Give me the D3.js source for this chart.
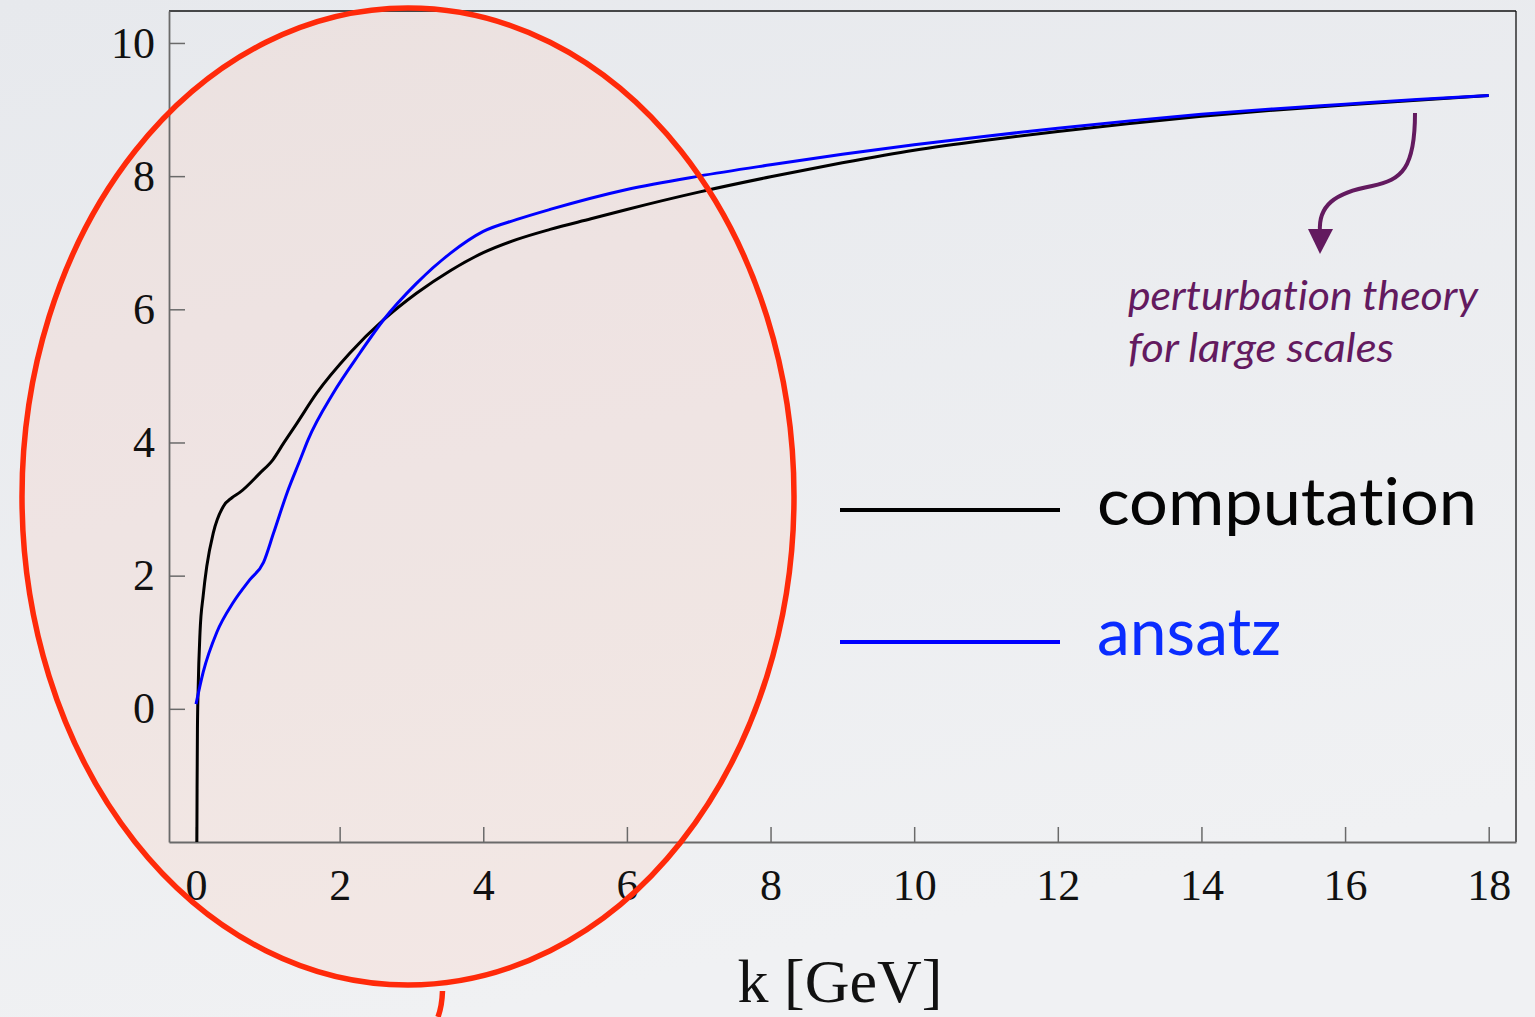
<!DOCTYPE html>
<html>
<head>
<meta charset="utf-8">
<script src="https://cdn.jsdelivr.net/npm/d3@7"></script>
<style>
  html, body { margin: 0; padding: 0; overflow: hidden; }
  svg { display: block; }
  text { font-variant-ligatures: none; font-feature-settings: "liga" 0; }
</style>
</head>
<body>
<svg id="chart" width="1535" height="1017"></svg>
<script>
// Computed running quantity vs. momentum scale k
const compK = [0.012, 0.015, 0.02, 0.03, 0.056, 0.1, 0.15, 0.24, 0.38, 0.5, 0.61, 0.89, 1.07, 1.22, 1.4, 1.68, 2.14, 2.61, 3.07, 3.54, 4.0, 4.47, 4.93, 5.5, 6.0, 7.0, 8.0, 9.0, 10.0, 11.0, 12.0, 13.0, 14.0, 15.0, 16.0, 17.0, 18.0];
const compY = [-2.0, -1.2, -0.3, 0.3, 1.15, 1.7, 2.14, 2.64, 3.04, 3.17, 3.25, 3.54, 3.74, 3.99, 4.28, 4.74, 5.34, 5.84, 6.24, 6.58, 6.85, 7.05, 7.2, 7.36, 7.5, 7.76, 7.99, 8.2, 8.39, 8.54, 8.67, 8.79, 8.9, 8.99, 9.07, 9.14, 9.21];

// Ansatz curve
const ansK = [0.0, 0.1, 0.29, 0.52, 0.75, 0.94, 1.08, 1.27, 1.45, 1.56, 1.91, 2.28, 2.61, 3.07, 3.54, 4.0, 4.47, 4.93, 6.0, 7.0, 8.0, 9.0, 10.0, 11.0, 12.0, 13.0, 14.0, 15.0, 16.0, 17.0, 18.0];
const ansY = [0.07, 0.55, 1.15, 1.6, 1.94, 2.2, 2.64, 3.25, 3.74, 4.04, 4.74, 5.34, 5.84, 6.39, 6.84, 7.17, 7.35, 7.5, 7.8, 8.0, 8.17, 8.33, 8.47, 8.6, 8.72, 8.83, 8.93, 9.01, 9.08, 9.15, 9.21];

const xTicks = [0, 2, 4, 6, 8, 10, 12, 14, 16, 18];
const yTicks = [0, 2, 4, 6, 8, 10];

const seriesNames = ["computation", "ansatz"];
const seriesColors = ["#000000", "#0000ff"];

const svg = d3.select("#chart");
const W = 1535, H = 1017;

// background
const defs = svg.append("defs");
const bg = defs.append("linearGradient").attr("id", "bg").attr("x1", 0).attr("y1", 0).attr("x2", 0.3).attr("y2", 1);
bg.append("stop").attr("offset", "0%").attr("stop-color", "#e7e9ed");
bg.append("stop").attr("offset", "100%").attr("stop-color", "#f0f1f3");
svg.append("rect").attr("width", W).attr("height", H).attr("fill", "url(#bg)");

const x = d3.scaleLinear().domain([-0.376, 18.38]).range([169, 1516]);
const y = d3.scaleLinear().domain([-2, 10.48]).range([842, 11]);

// highlighted low-k region (fill below everything)
const ell = { cx: 408, cy: 496.5, rx: 386, ry: 488.5 };
svg.append("ellipse")
  .attr("cx", ell.cx).attr("cy", ell.cy).attr("rx", ell.rx).attr("ry", ell.ry)
  .attr("fill", "rgb(255,194,174)").attr("fill-opacity", 0.2);

// frame: top and right edges
svg.append("line").attr("x1", x.range()[0]).attr("x2", x.range()[1]).attr("y1", y.range()[1]).attr("y2", y.range()[1])
  .attr("stroke", "#111").attr("stroke-width", 1.3);
svg.append("line").attr("x1", x.range()[1]).attr("x2", x.range()[1]).attr("y1", y.range()[0]).attr("y2", y.range()[1])
  .attr("stroke", "#111").attr("stroke-width", 1.3);

// axes
const xAxis = d3.axisBottom(x).tickValues(xTicks).tickSizeInner(-15).tickSizeOuter(0).tickPadding(27).tickFormat(d3.format("d"));
const yAxis = d3.axisLeft(y).tickValues(yTicks).tickSizeInner(-16).tickSizeOuter(0).tickPadding(14).tickFormat(d3.format("d"));

const gx = svg.append("g").attr("transform", `translate(0,${y.range()[0]})`).call(xAxis);
const gy = svg.append("g").attr("transform", `translate(${x.range()[0]},0)`).call(yAxis);

[gx, gy].forEach(g => {
  g.select(".domain").attr("stroke", "#6a6a6a").attr("stroke-width", 1.8);
  g.selectAll(".tick line").attr("stroke", "#6a6a6a").attr("stroke-width", 1.5);
  g.selectAll(".tick text")
    .attr("fill", "#111")
    .style("font-family", "'Liberation Serif', 'Times New Roman', serif")
    .style("font-size", "44px");
});

// axis title
svg.append("text")
  .attr("x", 840).attr("y", 1002)
  .attr("text-anchor", "middle")
  .style("font-family", "'Liberation Serif', 'Times New Roman', serif")
  .style("font-size", "62px")
  .attr("fill", "#111")
  .text("k [GeV]");

// curves
const line = d3.line().x(d => x(d[0])).y(d => y(d[1])).curve(d3.curveMonotoneX);
const compData = compK.map((k, i) => [k, compY[i]]);
const ansData = ansK.map((k, i) => [k, ansY[i]]);

svg.append("path").datum(compData).attr("d", line)
  .attr("fill", "none").attr("stroke", seriesColors[0]).attr("stroke-width", 3);
svg.append("path").datum(ansData).attr("d", line)
  .attr("fill", "none").attr("stroke", seriesColors[1]).attr("stroke-width", 3);

// legend
const legend = svg.append("g");
const legRows = [
  { y: 510, text: seriesNames[0], color: seriesColors[0], textColor: "#050505", len: 380, base: 525 },
  { y: 642, text: seriesNames[1], color: seriesColors[1], textColor: "#0a2cff", len: 184, base: 655 }
];
legRows.forEach(r => {
  legend.append("line").attr("x1", 840).attr("x2", 1060).attr("y1", r.y).attr("y2", r.y)
    .attr("stroke", r.color).attr("stroke-width", 4);
  legend.append("text").attr("x", 1097).attr("y", r.base)
    .attr("textLength", r.len).attr("lengthAdjust", "spacingAndGlyphs")
    .style("font-family", "Lato, 'Open Sans', sans-serif")
    .style("font-size", "66px")
    .attr("fill", r.textColor)
    .text(r.text);
});

// annotation for the large-k regime
const purple = "#631a5f";
svg.append("path")
  .attr("d", "M1415,113 C1415,168 1402,180 1372,186 C1334,193 1318,206 1320,232")
  .attr("fill", "none").attr("stroke", purple).attr("stroke-width", 4);
svg.append("path")
  .attr("d", "M1308,229 L1333,229 L1320,254 Z")
  .attr("fill", purple);
const ann = [
  { t: "perturbation theory", y: 310, len: 350 },
  { t: "for large scales", y: 362, len: 266 }
];
ann.forEach(a => {
  svg.append("text").attr("x", 1128).attr("y", a.y)
    .attr("textLength", a.len).attr("lengthAdjust", "spacingAndGlyphs")
    .style("font-family", "Lato, 'Open Sans', sans-serif")
    .style("font-style", "italic")
    .style("font-size", "40px")
    .attr("fill", purple)
    .text(a.t);
});

// outline of the highlighted region, drawn on top
svg.append("ellipse")
  .attr("cx", ell.cx).attr("cy", ell.cy).attr("rx", ell.rx).attr("ry", ell.ry)
  .attr("fill", "none").attr("stroke", "#ff2a0a").attr("stroke-width", 5.5);
svg.append("path")
  .attr("d", "M442.5,991 Q442,1006 438,1017")
  .attr("fill", "none").attr("stroke", "#ff2a0a").attr("stroke-width", 5.5);
</script>
</body>
</html>
